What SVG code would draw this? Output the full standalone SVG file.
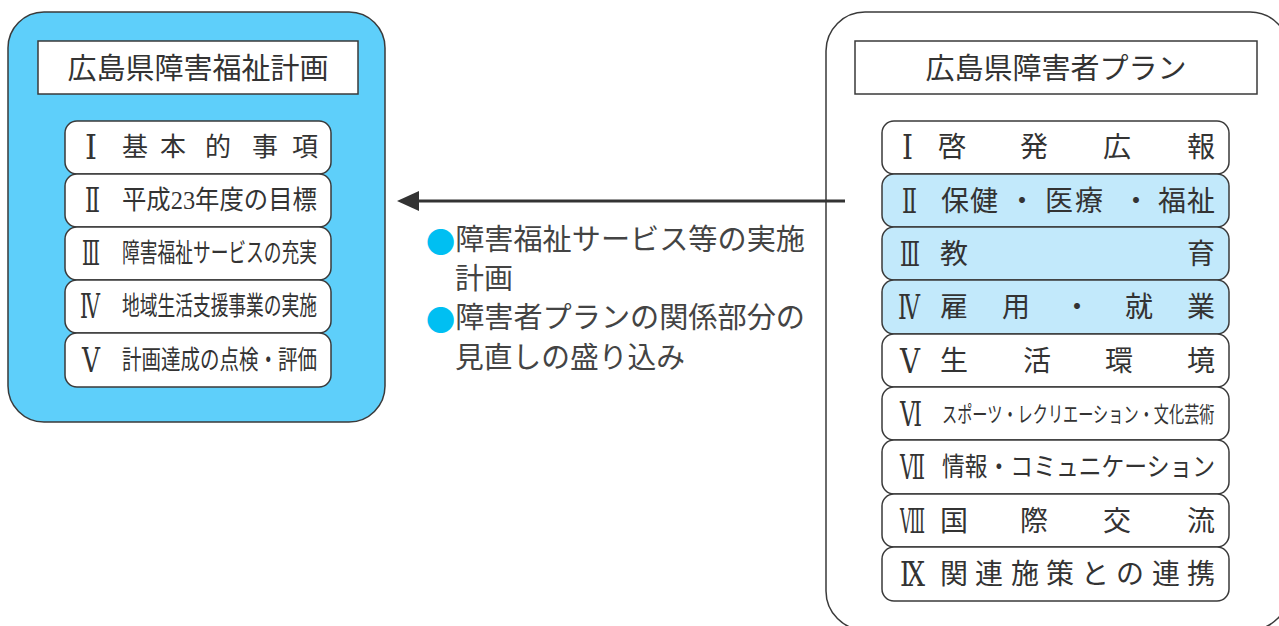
<svg xmlns="http://www.w3.org/2000/svg" width="1279" height="626" viewBox="0 0 1279 626">
<style>
.outer{stroke:#3a3a3a;stroke-width:1.5}
.title{fill:#fff;stroke:#3a3a3a;stroke-width:1.5}
.item{fill:#fff;stroke:#3a3a3a;stroke-width:1.5}
.item.hl{fill:#c2e9fb}
text{fill:#333;font-family:"Liberation Serif","Noto Sans CJK JP",serif;dominant-baseline:central}
.tt{font-family:"Liberation Sans","Noto Sans CJK JP",sans-serif;font-size:29px;text-anchor:middle}
.li{font-size:26px}
.ri{font-size:28px}
.num{font-family:"DejaVu Serif","Liberation Serif","Noto Sans CJK JP",serif;font-size:33px}
.mid{font-size:29px;fill:#444}
.dot{fill:#00bff2;font-family:"Noto Sans CJK JP",sans-serif}
</style>
<defs>
<marker id="ah" markerUnits="userSpaceOnUse" viewBox="0 0 22 20" markerWidth="22" markerHeight="20" refX="2" refY="10" orient="auto">
<path d="M0,0 L22,10 L0,20 z" fill="#333"/>
</marker>
</defs>

<g id="plan-left">
<rect class="outer" x="8" y="12" width="377" height="410" rx="36" fill="#5ecffa"/>
<rect class="title" x="38" y="41" width="320" height="53"/>
<text class="tt" x="198" y="69">広島県障害福祉計画</text>
</g>
<g id="left-1">
<rect class="item" x="65" y="121" width="266" height="53" rx="12"/>
<text class="num" x="85" y="147" textLength="12" lengthAdjust="spacingAndGlyphs">Ⅰ</text>
<text class="li" x="122 160 205 252 292" y="147">基本的事項</text>
</g>
<g id="left-2">
<rect class="item" x="65" y="174" width="266" height="53" rx="12"/>
<text class="num" x="85" y="200" textLength="15" lengthAdjust="spacingAndGlyphs">Ⅱ</text>
<text class="li" x="122" y="200" textLength="195" lengthAdjust="spacingAndGlyphs">平成23年度の目標</text>
</g>
<g id="left-3">
<rect class="item" x="65" y="227" width="266" height="53" rx="12"/>
<text class="num" x="82" y="253.5" textLength="18" lengthAdjust="spacingAndGlyphs">Ⅲ</text>
<text class="li" x="122" y="253.5" textLength="195" lengthAdjust="spacingAndGlyphs">障害福祉サービスの充実</text>
</g>
<g id="left-4">
<rect class="item" x="65" y="280" width="266" height="53" rx="12"/>
<text class="num" x="80" y="306.5" textLength="20" lengthAdjust="spacingAndGlyphs">Ⅳ</text>
<text class="li" x="122" y="306.5" textLength="195" lengthAdjust="spacingAndGlyphs">地域生活支援事業の実施</text>
</g>
<g id="left-5">
<rect class="item" x="65" y="333" width="266" height="54" rx="12"/>
<text class="num" x="82" y="360" textLength="18" lengthAdjust="spacingAndGlyphs">Ⅴ</text>
<text class="li" x="122" y="360" textLength="195" lengthAdjust="spacingAndGlyphs">計画達成の点検・評価</text>
</g>

<g id="plan-right">
<rect class="outer" x="826" y="12" width="463" height="618" rx="39" fill="#fff"/>
<rect class="title" x="855" y="41" width="402" height="53"/>
<text class="tt" x="1056" y="69">広島県障害者プラン</text>
</g>
<g id="right-1">
<rect class="item" x="882" y="121" width="347" height="53" rx="12"/>
<text class="num" x="902" y="147.7" textLength="11" lengthAdjust="spacingAndGlyphs">Ⅰ</text>
<text class="ri" x="938 1020 1103 1187" y="147.7">啓発広報</text>
</g>
<g id="right-2">
<rect class="item hl" x="882" y="174" width="347" height="53" rx="12"/>
<text class="num" x="902" y="201" textLength="15" lengthAdjust="spacingAndGlyphs">Ⅱ</text>
<text class="ri" x="941 970 1008 1045 1075 1122 1158 1187" y="201">保健・医療・福祉</text>
</g>
<g id="right-3">
<rect class="item hl" x="882" y="227" width="347" height="53" rx="12"/>
<text class="num" x="900" y="254.3" textLength="20" lengthAdjust="spacingAndGlyphs">Ⅲ</text>
<text class="ri" x="940 1187" y="254.3">教育</text>
</g>
<g id="right-4">
<rect class="item hl" x="882" y="280" width="347" height="54" rx="12"/>
<text class="num" x="898" y="307.7" textLength="22" lengthAdjust="spacingAndGlyphs">Ⅳ</text>
<text class="ri" x="940 1002 1063 1125 1187" y="307.7">雇用・就業</text>
</g>
<g id="right-5">
<rect class="item" x="882" y="334" width="347" height="53" rx="12"/>
<text class="num" x="900" y="361" textLength="20" lengthAdjust="spacingAndGlyphs">Ⅴ</text>
<text class="ri" x="940 1023 1105 1187" y="361">生活環境</text>
</g>
<g id="right-6">
<rect class="item" x="882" y="387" width="347" height="53" rx="12"/>
<text class="num" x="900" y="414.3" textLength="22" lengthAdjust="spacingAndGlyphs">Ⅵ</text>
<text x="0" y="0" transform="translate(942,414.3) scale(0.69,1)" style="font-size:22px">スポーツ・レクリエーション・文化芸術</text>
</g>
<g id="right-7">
<rect class="item" x="882" y="440" width="347" height="54" rx="12"/>
<text class="num" x="900" y="467.7" textLength="25" lengthAdjust="spacingAndGlyphs">Ⅶ</text>
<text x="942" y="467.7" style="font-size:26px" textLength="273" lengthAdjust="spacingAndGlyphs">情報・コミュニケーション</text>
</g>
<g id="right-8">
<rect class="item" x="882" y="494" width="347" height="53" rx="12"/>
<text class="num" x="900" y="521" textLength="25" lengthAdjust="spacingAndGlyphs">Ⅷ</text>
<text class="ri" x="940 1020 1103 1187" y="521">国際交流</text>
</g>
<g id="right-9">
<rect class="item" x="882" y="547" width="347" height="54" rx="12"/>
<text class="num" x="900" y="574.3" textLength="25" lengthAdjust="spacingAndGlyphs">Ⅸ</text>
<text class="ri" x="940 975 1011 1046 1081 1116 1152 1187" y="574.3">関連施策との連携</text>
</g>

<g id="connectors">
<line x1="845" y1="201" x2="417" y2="201" stroke="#333" stroke-width="3" marker-end="url(#ah)"/>
</g>

<g id="connector-label">
<text class="mid" x="426" y="240" textLength="379" lengthAdjust="spacingAndGlyphs"><tspan class="dot">●</tspan>障害福祉サービス等の実施</text>
<text class="mid" x="455" y="279">計画</text>
<text class="mid" x="426" y="318" textLength="379" lengthAdjust="spacingAndGlyphs"><tspan class="dot">●</tspan>障害者プランの関係部分の</text>
<text class="mid" x="455" y="358" textLength="230" lengthAdjust="spacingAndGlyphs">見直しの盛り込み</text>
</g>
</svg>
